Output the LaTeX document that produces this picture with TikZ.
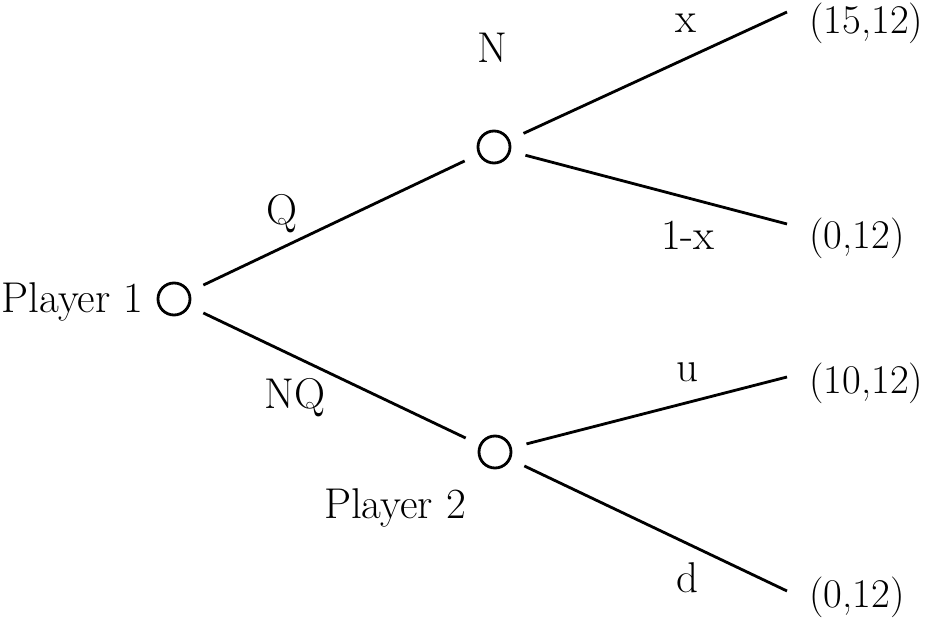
\documentclass[tikz,border=0pt]{standalone}
\usepackage{fontspec}
\usepackage{tikz}

\tikzset{
	every node/.style={font=\fontsize{24.5}{29}\selectfont},
	choice/.style={shape=circle, draw, line width=1.6pt, minimum size=0.64cm, inner sep=0pt, outer sep=0.33cm},
	payoff/.style={anchor=west, inner xsep=0.44cm, inner ysep=0pt, font=\fontsize{23.2}{28}\selectfont},
	branch/.style={line width=1.6pt}
}

\begin{document}
\begin{tikzpicture}
		\useasboundingbox (0,0) rectangle (18.52,-12.36);

		% Nodi di scelta
		\node[choice] (p1) at (3.48, -5.98){};
		\node[choice] (n) at (9.88, -2.94){};
		\node[choice] (p2) at (9.9, -9.04){};

		\node (p1name) at (1.45, -6.04){Player 1};
		\node (nname) at (9.84, -0.96){N};
		\node (p2name) at (7.9, -10.16){Player 2};

		% Esiti
		\node[payoff] (o1) at (15.74, -0.46){(15,12)};
		\node[payoff] (o2) at (15.74, -4.76){(0,12)};
		\node[payoff] (o3) at (15.74, -7.66){(10,12)};
		\node[payoff] (o4) at (15.74, -11.94){(0,12)};

		% Rami
		\draw[branch] (p1) to (n);
		\draw[branch] (p1) to (p2);
		\draw[branch] (n) to ([yshift=0.22cm]o1.west);
		\draw[branch] (n) to ([yshift=0.28cm]o2.west);
		\draw[branch] (p2) to ([yshift=0.12cm]o3.west);
		\draw[branch] (p2) to ([yshift=0.12cm]o4.west);

		% Etichette dei rami
		\node (q) at (5.64, -4.28){Q};
		\node (nq) at (5.9, -7.96){NQ};
		\node (x) at (13.72, -0.46){x};
		\node (notx) at (13.76, -4.7){1-x};
		\node (u) at (13.74, -7.44){u};
		\node (d) at (13.74, -11.56){d};
	\end{tikzpicture}
\end{document}
